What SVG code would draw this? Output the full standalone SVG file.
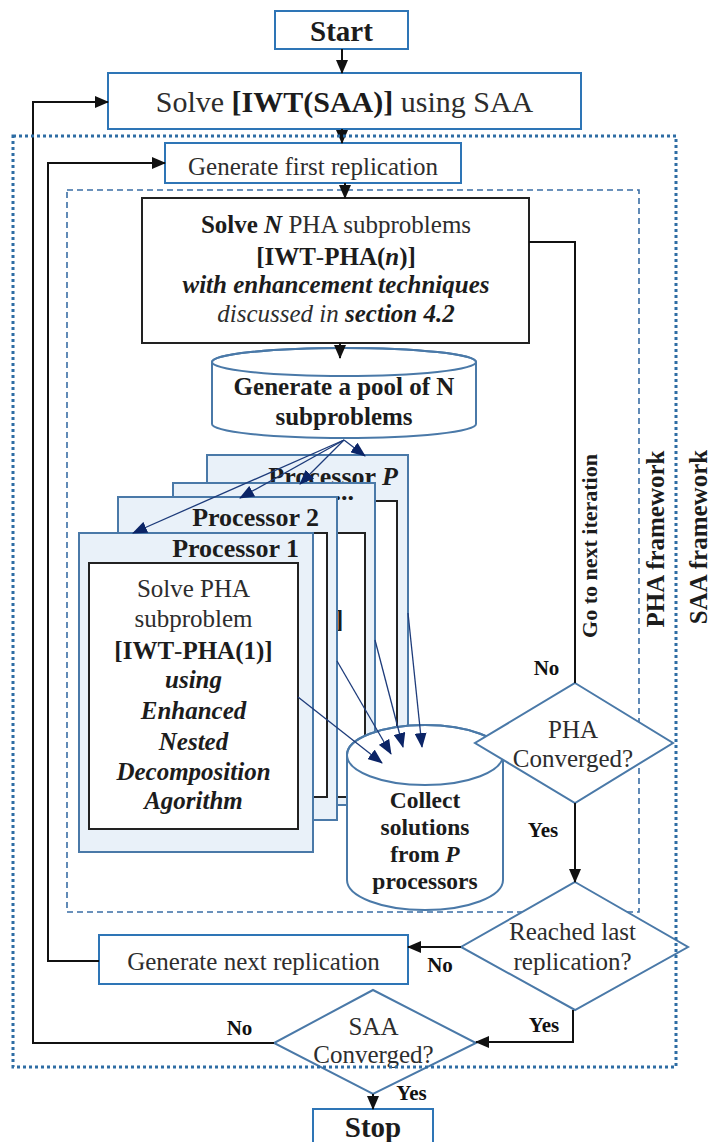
<svg xmlns="http://www.w3.org/2000/svg" width="710" height="1142" viewBox="0 0 710 1142">
<defs>
<marker id="ah" markerUnits="userSpaceOnUse" markerWidth="14" markerHeight="12" refX="13" refY="6" orient="auto"><path d="M0,0 L14,6 L0,12 z" fill="#111"/></marker>
<marker id="an" markerUnits="userSpaceOnUse" markerWidth="15" markerHeight="12" refX="14" refY="6" orient="auto"><path d="M0,0 L15,6 L0,12 z" fill="#0b2466"/></marker>
</defs>
<style>
text{font-family:"Liberation Serif","Times New Roman",serif;fill:#2d2d2d;font-size:25px}
.b{font-weight:bold;fill:#1c1c1c}
.i{font-style:italic}
.bi{font-weight:bold;font-style:italic;fill:#1c1c1c}
.c{text-anchor:middle}
.e{text-anchor:end}
.box{fill:#fff;stroke:#2e75b6;stroke-width:2}
.blk{fill:#fff;stroke:#222;stroke-width:2}
.shp{fill:#fff;stroke:#4a79a8;stroke-width:2}
.frm{fill:#e9f1f9;stroke:#4a79a8;stroke-width:2}
.ln{fill:none;stroke:#111;stroke-width:2}
.nv{fill:none;stroke:#1d3b7a;stroke-width:1.3}
.lab{font-weight:bold;font-size:21px;fill:#111;text-anchor:middle}
.cl{font-weight:bold;font-size:23.5px;fill:#1c1c1c;text-anchor:middle}
</style>

<g id="pha-framework">
<rect x="67" y="190" width="572" height="722" fill="none" stroke="#3a6ea5" stroke-width="1.6" stroke-dasharray="6 4"/>
<text class="b c" x="0" y="0" transform="translate(664,539) rotate(-90)">PHA framework</text>
</g>

<g id="start">
<rect class="box" x="275" y="11" width="133" height="38"/>
<text class="b c" x="341.5" y="41" style="font-size:29px">Start</text>
</g>

<g id="solve-saa">
<rect class="box" x="108" y="73" width="473" height="56"/>
<text class="c" x="344.5" y="112" style="font-size:30px">Solve <tspan class="b">[IWT(SAA)]</tspan> using SAA</text>
</g>

<g id="gen-first">
<rect class="box" x="165" y="143" width="296" height="40"/>
<text class="c" x="313" y="175">Generate first replication</text>
</g>

<g id="solve-n">
<rect class="blk" x="142" y="198" width="387" height="145"/>
<text class="c" x="336" y="233"><tspan class="b">Solve </tspan><tspan class="bi">N</tspan> PHA subproblems</text>
<text class="c" x="336" y="265"><tspan class="b">[IWT</tspan>-<tspan class="b">PHA(</tspan><tspan class="bi">n</tspan><tspan class="b">)]</tspan></text>
<text class="c bi" x="336" y="293">with enhancement techniques</text>
<text class="c" x="336" y="322"><tspan class="i">discussed in </tspan><tspan class="bi">section 4.2</tspan></text>
</g>

<g id="pool">
<path class="shp" d="M212,362 V424 A132,14 0 0 0 476,424 V362 A132,14 0 0 0 212,362 Z"/>
<ellipse cx="344" cy="362" rx="132" ry="14" fill="none" stroke="#4a79a8" stroke-width="2"/>
<text class="b c" x="344" y="395">Generate a pool of N</text>
<text class="b c" x="344" y="425">subproblems</text>
</g>

<g id="processor-p">
<rect class="frm" x="207" y="455" width="201" height="330"/>
<rect class="blk" x="217" y="501" width="180" height="270"/>
<text class="b e" x="398" y="485" style="font-size:26px">Processor <tspan class="bi">P</tspan></text>
</g>

<g id="processor-dots">
<rect class="frm" x="173" y="483" width="202" height="322"/>
<rect class="blk" x="183" y="533" width="182" height="264"/>
<text class="b" x="237" y="500" style="font-size:26px">..................</text>
<text class="b" x="335" y="628">]</text>
</g>

<g id="processor-2">
<rect class="frm" x="118" y="497" width="219" height="323"/>
<rect class="blk" x="128" y="533" width="199" height="264"/>
<text class="b e" x="319" y="526" style="font-size:26px">Processor 2</text>
</g>

<g id="processor-1">
<rect class="frm" x="79" y="533" width="234" height="319"/>
<rect class="blk" x="89" y="563" width="209" height="266"/>
<text class="b e" x="299" y="557" style="font-size:26px">Processor 1</text>
<text class="c" x="193.5" y="597">Solve PHA</text>
<text class="c" x="193.5" y="627">subproblem</text>
<text class="c" x="193.5" y="659"><tspan class="b">[IWT</tspan>-<tspan class="b">PHA(1)]</tspan></text>
<text class="c bi" x="193.5" y="688">using</text>
<text class="c bi" x="193.5" y="719">Enhanced</text>
<text class="c bi" x="193.5" y="750">Nested</text>
<text class="c bi" x="193.5" y="780">Decomposition</text>
<text class="c bi" x="193.5" y="809">Agorithm</text>
</g>

<g id="collect">
<path class="shp" d="M347,755 V880 A78,30 0 0 0 503,880 V755 A78,30 0 0 0 347,755 Z"/>
<ellipse cx="425" cy="755" rx="78" ry="30" fill="none" stroke="#4a79a8" stroke-width="2"/>
<text class="cl" x="425" y="808">Collect</text>
<text class="cl" x="425" y="835">solutions</text>
<text class="cl" x="425" y="862">from <tspan class="bi">P</tspan></text>
<text class="cl" x="425" y="889">processors</text>
</g>

<g id="pha-converged">
<polygon class="shp" points="575,683 673,743 575,803 475,743"/>
<text class="c" x="573" y="738">PHA</text>
<text class="c" x="573" y="767">Converged?</text>
</g>

<g id="reached-last">
<polygon class="shp" points="575,882 688,947 575,1010 461,947"/>
<text class="c" x="572.5" y="940">Reached last</text>
<text class="c" x="572.5" y="970">replication?</text>
</g>

<g id="gen-next">
<rect class="box" x="99" y="935" width="309" height="49"/>
<text class="c" x="253.5" y="970">Generate next replication</text>
</g>

<g id="saa-converged">
<polygon class="shp" points="373,990 476,1043 373,1094 274,1043"/>
<text class="c" x="373.5" y="1035">SAA</text>
<text class="c" x="373.5" y="1063">Converged?</text>
</g>

<g id="stop">
<rect class="box" x="313" y="1109" width="120" height="45"/>
<text class="b c" x="373" y="1137" style="font-size:29px">Stop</text>
</g>

<g id="connectors">
<path class="ln" d="M342,49 V73" marker-end="url(#ah)"/>
<path class="ln" d="M342,129 V143" marker-end="url(#ah)"/>
<path class="ln" d="M345,183 V198" marker-end="url(#ah)"/>
<path class="ln" d="M340,343 V358" marker-end="url(#ah)"/>
<path class="ln" d="M529,242 H575 V683"/>
<path class="ln" d="M575,803 V882" marker-end="url(#ah)"/>
<path class="ln" d="M461,947 H408" marker-end="url(#ah)"/>
<path class="ln" d="M99,961 H48 V163 H165" marker-end="url(#ah)"/>
<path class="ln" d="M573,1010 V1042 H476" marker-end="url(#ah)"/>
<path class="ln" d="M274,1043 H33 V102 H108" marker-end="url(#ah)"/>
<path class="ln" d="M373,1094 V1109" marker-end="url(#ah)"/>
<path class="nv" d="M344,440 L365,456" marker-end="url(#an)"/>
<path class="nv" d="M344,440 L300,484" marker-end="url(#an)"/>
<path class="nv" d="M344,440 L240,498" marker-end="url(#an)"/>
<path class="nv" d="M344,440 L133,533" marker-end="url(#an)"/>
<path class="nv" d="M298,697 L382,763" marker-end="url(#an)"/>
<path class="nv" d="M337,661 L391,754" marker-end="url(#an)"/>
<path class="nv" d="M375,640 L403,747" marker-end="url(#an)"/>
<path class="nv" d="M408,613 L422,747" marker-end="url(#an)"/>
</g>

<g id="connector-labels">
<text class="lab" x="546.5" y="675">No</text>
<text class="b" x="0" y="0" transform="translate(597,546) rotate(-90)" style="font-size:22px;text-anchor:middle">Go to next iteration</text>
<text class="lab" x="543" y="837">Yes</text>
<text class="lab" x="440" y="972">No</text>
<text class="lab" x="544" y="1032">Yes</text>
<text class="lab" x="239.5" y="1035">No</text>
<text class="lab" x="411.5" y="1100">Yes</text>
</g>

<g id="saa-framework">
<rect x="13" y="136" width="663" height="931" fill="none" stroke="#2e6da4" stroke-width="3" stroke-dasharray="3 3"/>
<text class="b c" x="0" y="0" transform="translate(707,537) rotate(-90)">SAA framework</text>
</g>
</svg>
